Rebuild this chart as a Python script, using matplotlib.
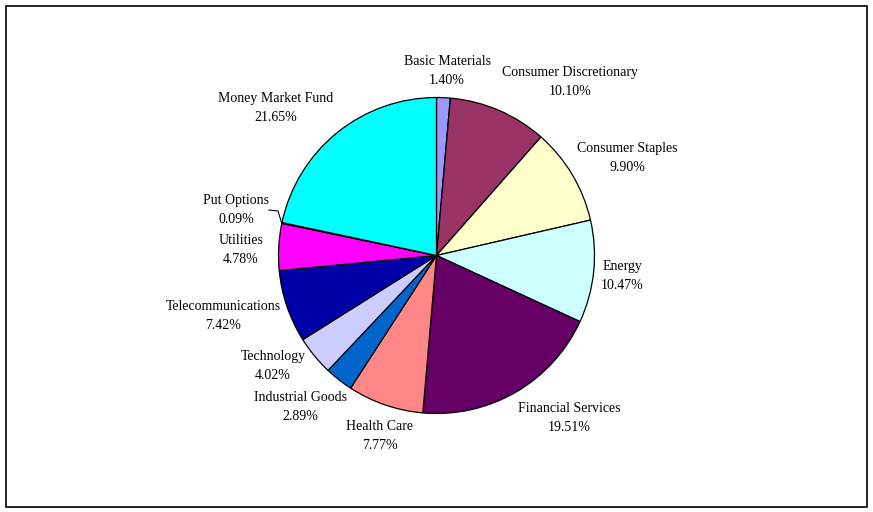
import matplotlib
matplotlib.use("Agg")
import matplotlib.pyplot as plt
from matplotlib.patches import Rectangle

# sector data, clockwise from 12 o'clock
sectors = ["Basic Materials", "Consumer Discretionary", "Consumer Staples", "Energy",
           "Financial Services", "Health Care", "Industrial Goods", "Technology",
           "Telecommunications", "Utilities", "Put Options", "Money Market Fund"]
weights = [1.40, 10.10, 9.90, 10.47, 19.51, 7.77, 2.89, 4.02, 7.42, 4.78, 0.09, 21.65]
colors = ["#9999FF", "#993366", "#FFFFCC", "#CCFFFF", "#660066", "#FF8686",
          "#0066CC", "#CCCCFF", "#0000A8", "#FF00FF", "#3333CC", "#00FFFF"]

# label anchor points in pixel space (image coords, y down)
label_xy = [(447, 71), (570, 82), (627, 158), (622, 276), (569, 418), (380, 436),
            (300, 407), (273, 366), (223, 316), (241, 250), (236, 210), (276, 108)]

W, H = 873, 512
cx, cy, R = 436.5, 255.5, 158

fig = plt.figure(figsize=(W / 100, H / 100), dpi=100)
ax = fig.add_axes([0, 0, 1, 1])
ax.set_xlim(0, W); ax.set_ylim(H, 0)
ax.set_aspect("equal"); ax.axis("off")

# chart frame
ax.add_patch(Rectangle((5.5, 5.5), 861, 501, fill=False, ec="black", lw=1.2))

# y axis is inverted, so counterclock=True in data space draws clockwise on screen
wedges, _ = ax.pie(weights, colors=colors, startangle=-90, counterclock=True,
                   center=(cx, cy), radius=R, frame=True,
                   wedgeprops=dict(edgecolor="black", linewidth=0.9))
ax.set_xlim(0, W); ax.set_ylim(H, 0); ax.axis("off")

for name, val, (x, y) in zip(sectors, weights, label_xy):
    ax.text(x, y, f"{name}\n{val:.2f}%", ha="center", va="center",
            family="Liberation Serif", fontsize=10, linespacing=1.55)

# leader line for the tiny Put Options slice
ax.plot([269, 278, 281.5], [210, 211, 222.5], color="black", lw=0.8)

fig.savefig("out.png", dpi=100)
